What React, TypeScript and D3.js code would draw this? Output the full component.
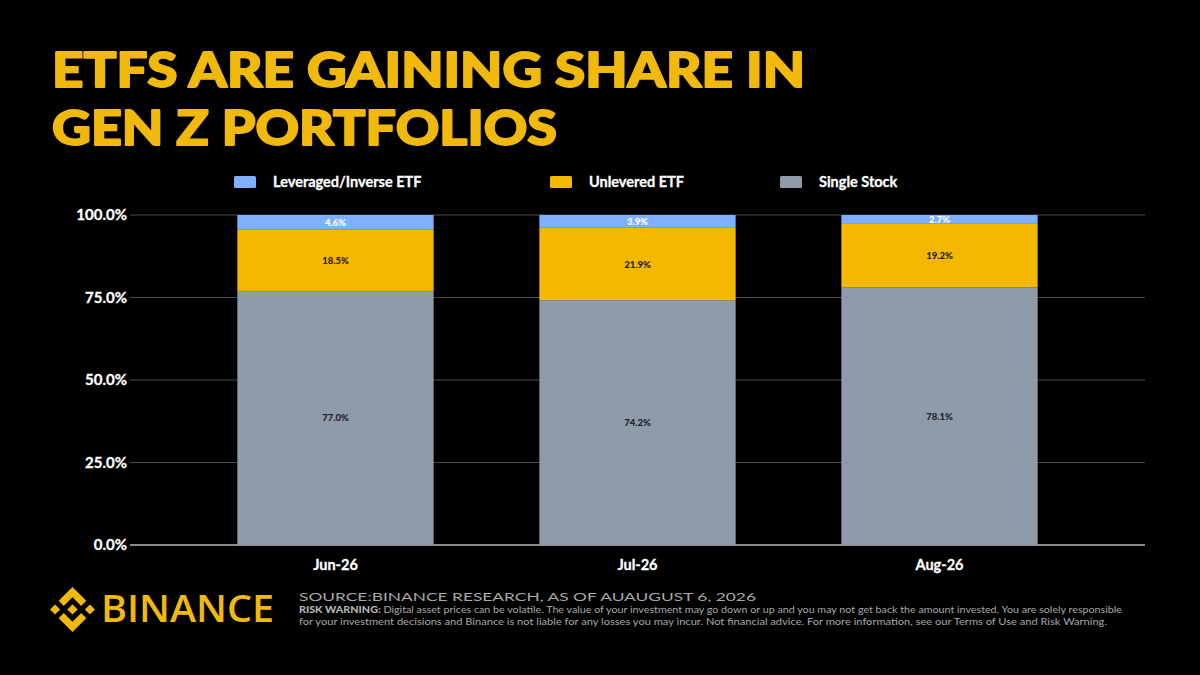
import React from "react";
import * as d3 from "d3";

const categories = ["Jun-26", "Jul-26", "Aug-26"];
const seriesNames = ["Single Stock", "Unlevered ETF", "Leveraged/Inverse ETF"];
const singleStock = [77.0, 74.2, 78.1];
const unleveredEtf = [18.5, 21.9, 19.2];
const leveragedEtf = [4.6, 3.9, 2.7];
const yTicks = [0, 25, 50, 75, 100];
const legendOrder = ["Leveraged/Inverse ETF", "Unlevered ETF", "Single Stock"];
const legendX = [234, 550, 780];
const titleLines = ["ETFS ARE GAINING SHARE IN", "GEN Z PORTFOLIOS"];
const titleWidths = [753, 505];

const W = 1200;
const H = 675;
const colors: Record<string, string> = {
  "Single Stock": "#8F9BA8",
  "Unlevered ETF": "#F5B800",
  "Leveraged/Inverse ETF": "#7FAFFF",
};
const labelColors: Record<string, string> = {
  "Single Stock": "#1E2128",
  "Unlevered ETF": "#1E2128",
  "Leveraged/Inverse ETF": "#FFFFFF",
};

const FONT = "Lato, 'Open Sans', 'DejaVu Sans', sans-serif";

export default function App() {
  const table = categories.map((c, i) => ({
    cat: c,
    "Single Stock": singleStock[i],
    "Unlevered ETF": unleveredEtf[i],
    "Leveraged/Inverse ETF": leveragedEtf[i],
  }));
  const stacked = d3.stack<any>().keys(seriesNames)(table);

  const x = d3
    .scaleBand<string>()
    .domain(categories)
    .range([184.5, 1090.5])
    .paddingInner(0.35)
    .paddingOuter(0.175);
  const y = d3.scaleLinear().domain([0, 100]).range([545, 215]);
  const gridX0 = 130;
  const gridX1 = 1145;

  const logoPaths = [
    "M38.73 53.2l24.59-24.58 24.6 24.6 14.3-14.31L63.32 0 24.42 38.9l14.31 14.3z",
    "M0 63.31l14.3-14.31 14.31 14.31-14.31 14.3z",
    "M38.73 73.41l24.59 24.59 24.6-24.6 14.31 14.29-38.9 38.91-38.91-38.88-.02-.02 14.33-14.29z",
    "M98 63.31l14.3-14.31 14.31 14.3-14.31 14.32z",
    "M77.83 63.3L63.32 48.78 52.59 59.51l-1.24 1.23-2.54 2.54 14.51 14.5 14.51-14.47z",
  ];

  return (
    <svg
      width={W}
      height={H}
      style={{ position: "absolute", left: 0, top: 0, background: "#000" }}
      fontFamily={FONT}
    >
      <rect x={0} y={0} width={W} height={H} fill="#000" />

      {/* Title */}
      {titleLines.map((line, i) => (
        <text
          key={line}
          x={52}
          y={87 + i * 58}
          fill="#F0B90B"
          stroke="#F0B90B"
          strokeWidth={1.8}
          strokeLinejoin="round"
          fontSize={48}
          fontWeight={900}
          textLength={titleWidths[i]}
          lengthAdjust="spacingAndGlyphs"
        >
          {line}
        </text>
      ))}

      {/* Legend */}
      {legendOrder.map((name, i) => (
        <g key={name}>
          <rect x={legendX[i]} y={176} width={22} height={12} rx={1.5} fill={colors[name]} />
          <text
            x={legendX[i] + 39}
            y={187}
            fill="#FFFFFF"
            stroke="#FFFFFF"
            strokeWidth={0.3}
            fontSize={14.5}
            fontWeight={700}
          >
            {name}
          </text>
        </g>
      ))}

      {/* Gridlines */}
      {yTicks.map((t) => (
        <g key={t}>
          <line
            x1={gridX0}
            x2={gridX1}
            y1={y(t)}
            y2={y(t)}
            stroke={t === 0 ? "#8A8A8A" : "#4A4A4A"}
            strokeWidth={t === 0 ? 2 : 1.2}
          />
          <text
            x={127}
            y={y(t) + 5}
            textAnchor="end"
            fill="#FFFFFF"
            stroke="#FFFFFF"
            strokeWidth={0.3}
            fontSize={15}
            fontWeight={700}
          >
            {d3.format(".1f")(t) + "%"}
          </text>
        </g>
      ))}

      {/* Bars */}
      {stacked.map((layer) => (
        <g key={layer.key}>
          {layer.map((d, i) => {
            const cat = categories[i];
            const y0 = y(d[0]);
            const y1 = y(Math.min(d[1], 100));
            return (
              <g key={cat}>
                <rect
                  x={x(cat)}
                  y={y1}
                  width={x.bandwidth()}
                  height={Math.max(0, y0 - y1)}
                  fill={colors[layer.key]}
                />
                <text
                  x={(x(cat) as number) + x.bandwidth() / 2}
                  y={(y0 + y1) / 2 + 3.5}
                  textAnchor="middle"
                  fill={labelColors[layer.key]}
                  fontSize={9.5}
                  fontWeight={900}
                >
                  {d3.format(".1f")(d[1] - d[0]) + "%"}
                </text>
              </g>
            );
          })}
        </g>
      ))}

      {/* X axis labels */}
      {categories.map((c) => (
        <text
          key={c}
          x={(x(c) as number) + x.bandwidth() / 2}
          y={570}
          textAnchor="middle"
          fill="#FFFFFF"
          stroke="#FFFFFF"
          strokeWidth={0.3}
          fontSize={14.5}
          fontWeight={700}
        >
          {c}
        </text>
      ))}

      {/* Footer logo */}
      <g transform="translate(50,587) scale(0.355)" fill="#F0B90B">
        {logoPaths.map((p, i) => (
          <path key={i} d={p} />
        ))}
      </g>
      <text
        x={101}
        y={622}
        fill="#F0B90B"
        fontSize={37}
        fontWeight={600}
        fontFamily="'Open Sans', Lato, sans-serif"
        textLength={173}
        lengthAdjust="spacingAndGlyphs"
      >
        BINANCE
      </text>

      <text x={299} y={601} fill="#A8A8A8" fontSize={11.5} textLength={457} lengthAdjust="spacingAndGlyphs">
        SOURCE:BINANCE RESEARCH, AS OF AUAUGUST 6, 2026
      </text>
      <text x={299} y={613} fill="#A8A8A8" fontSize={10.2} textLength={823} lengthAdjust="spacingAndGlyphs">
        <tspan fontWeight={900} fill="#B5B5B5">RISK WARNING:</tspan>
        {" Digital asset prices can be volatile. The value of your investment may go down or up and you may not get back the amount invested. You are solely responsible"}
      </text>
      <text x={299} y={625} fill="#A8A8A8" fontSize={10.2} textLength={808} lengthAdjust="spacingAndGlyphs">
        for your investment decisions and Binance is not liable for any losses you may incur. Not financial advice. For more information, see our Terms of Use and Risk Warning.
      </text>
    </svg>
  );
}
